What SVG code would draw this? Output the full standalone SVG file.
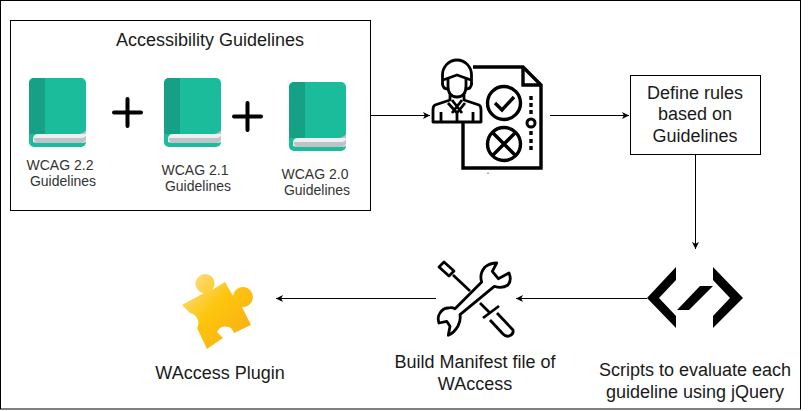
<svg xmlns="http://www.w3.org/2000/svg" width="811" height="411" viewBox="0 0 811 411">
<defs>
<style>
text{font-family:"Liberation Sans",Arial,sans-serif;fill:#1a1a1a}
.t12{font-size:14px;fill:#333}
.t16{font-size:18px}
.c{text-anchor:middle}
.conn{fill:none;stroke:#000;stroke-width:1;marker-end:url(#arr)}
.ink{fill:none;stroke:#000;stroke-width:3.4;stroke-linejoin:miter}
.thin{fill:none;stroke:#000;stroke-width:2.800;stroke-linejoin:round}
.plus{stroke:#000;stroke-width:4;stroke-linecap:round}
</style>
<marker id="arr" markerWidth="8" markerHeight="8" refX="7" refY="3.5" orient="auto" markerUnits="userSpaceOnUse"><path d="M0 0L7 3.5L0 7L1.8 3.5Z" fill="#000"/></marker>
<linearGradient id="puz" x1="0" y1="0" x2="1" y2="1"><stop offset="0" stop-color="#fde29a"/><stop offset=".45" stop-color="#fdc50c"/><stop offset="1" stop-color="#f9a91c"/></linearGradient>
<g id="book">
<rect x="0" y="0" width="57" height="69" rx="5" fill="#1abc9c"/>
<path d="M5 0H16V56H0V5A5 5 0 0 1 5 0Z" fill="#16a085"/>
<path d="M4 64L4 61Q4 56 9 56H57V64L54 65H8Z" fill="#ecf0f1"/>
<path d="M5 60Q5 65 9 65H53Q55 65 57 62V58Q55 60 53 60Z" fill="#bdc3c7"/>
<path d="M57 52V56H50Q55 55 57 52Z" fill="#bdc3c7"/>
</g>
</defs>
<rect x="0.5" y="0.5" width="800" height="408.5" fill="#fff" stroke="#000"/>
<g id="connectors">
<path class="conn" d="M371 115.500H430"/>
<path class="conn" d="M550 115.500H629"/>
<path class="conn" d="M695.500 155V249"/>
<path class="conn" d="M647 298.500H516"/>
<path class="conn" d="M436 298.500H276"/>
</g>
<g id="guidelines">
<rect x="10.500" y="20.500" width="360" height="190" fill="#fff" stroke="#000"/>
<text class="t16 c" x="210" y="46">Accessibility Guidelines</text>
</g>
<g id="wcag22"><use href="#book" x="29" y="78"/><text class="t12 c" x="60" y="170">WCAG 2.2</text><text class="t12 c" x="63" y="186">Guidelines</text></g>
<g id="plus1"><path class="plus" d="M114 112.500H141M127.500 99V126"/></g>
<g id="wcag21"><use href="#book" x="164" y="78"/><text class="t12 c" x="195" y="175">WCAG 2.1</text><text class="t12 c" x="198" y="191">Guidelines</text></g>
<g id="plus2"><path class="plus" d="M234 116.500H261M247.500 103V130"/></g>
<g id="wcag20"><use href="#book" x="289" y="82"/><text class="t12 c" x="315" y="179">WCAG 2.0</text><text class="t12 c" x="317" y="195">Guidelines</text></g>
<g id="reviewer">
<path class="ink" d="M473 67H523L541 85V168H463V122"/>
<path class="ink" d="M523 67V85H541"/>
<path class="thin" d="M442.500 85V75A14.500 15 0 0 1 471.500 75V85"/>
<path class="thin" d="M443 80L457 75L471 80"/>
<path class="thin" d="M442.500 83Q442.500 89 448 89M471.500 83Q471.500 89 466 89"/>
<path class="thin" d="M448 79V86Q448 97 457 97Q466 97 466 86V79"/>
<path class="thin" d="M450 95V100L435 105Q433 106 433 110V122H481V110Q481 106 479 105L464 100V95"/>
<path class="thin" d="M448 103L457 113L465 103M452 100L462 113M462 100L452 113M441 112V122M473 112V122M457 113V121"/>
<circle class="ink" cx="504" cy="103" r="16.500"/>
<path class="ink" d="M495 103L502 110L514 97"/>
<circle class="ink" cx="504" cy="144" r="16.500"/>
<path class="ink" d="M492 132L516 156M516 132L492 156"/>
<path d="M531 96V100M531 103V107M531 110V114M531 131V135M531 139V143M531 146V150" stroke="#000" stroke-width="3.400" fill="none"/>
<circle cx="531" cy="123" r="4" fill="none" stroke="#000" stroke-width="3"/>
<path d="M488 172.500V174" stroke="#555" stroke-width="1"/>
</g>
<g id="rules">
<rect x="630.500" y="75.500" width="130" height="79" fill="#fff" stroke="#000"/>
<text class="t16 c" x="695" y="99">Define rules</text>
<text class="t16 c" x="695" y="120">based on</text>
<text class="t16 c" x="695" y="142">Guidelines</text>
</g>
<g id="scripts">
<path d="M676 267V280L659 298L676 316V328L647 298Z" fill="#000"/>
<path d="M713 267V280L730 298L713 316V328L743 298Z" fill="#000"/>
<path d="M700 286H713L689 310H677Z" fill="#000"/>
<text class="t16 c" x="695" y="376">Scripts to evaluate each</text>
<text class="t16 c" x="695" y="398">guideline using jQuery</text>
</g>
<g id="manifest">
<path class="thin" d="M444 262L454 271L449 276L439 267Z"/>
<path class="thin" d="M453 275L470 291M480 303L490 313"/>
<path class="thin" d="M499 306L483 318M497 313L513 330Q514 334 509 336Q506 337 503 334L490 320"/>
<path class="thin" d="M481.700 282Q479 274 485 267Q490 263 496.700 263L492.300 271.300L498.300 278.700L509 273Q512 280 508 285Q502 289 494.300 286.300L460 314.700Q461 320 458 326Q454 333 448.300 335.300L450 326.300L446.700 321.300L439 323Q437 317 440 313Q443 308 448.300 308Q452 307 455 308.700Z"/>
<text class="t16 c" x="475" y="368">Build Manifest file of</text>
<text class="t16 c" x="475" y="390">WAccess</text>
</g>
<g id="plugin">
<path fill="url(#puz)" d="M182 305L204 293A9.500 9.500 0 1 1 212 290L225 282L233 296A10 10 0 1 1 242 307L251 325L234 333A9 9 0 0 0 217 332L223 338L207 349L197 328A10 10 0 0 0 190 313Z"/>
<text class="t16 c" x="220" y="379">WAccess Plugin</text>
</g>
</svg>
